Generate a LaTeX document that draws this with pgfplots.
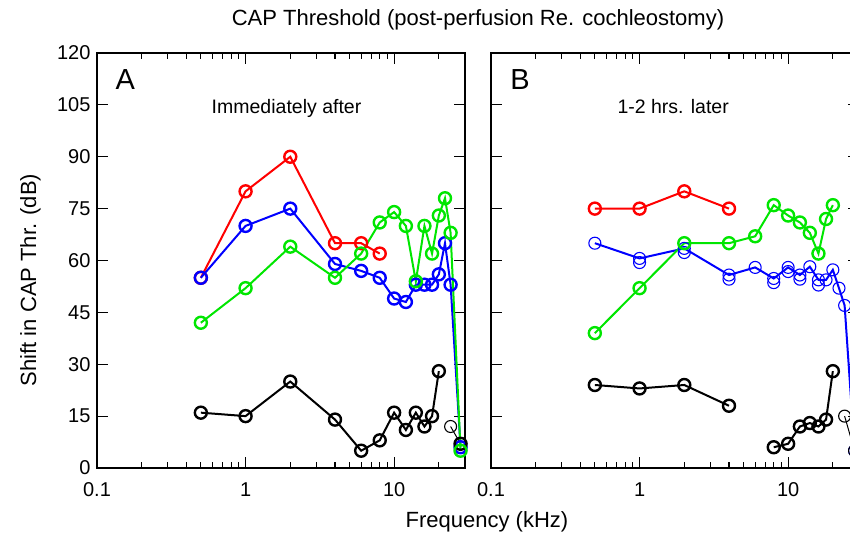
\documentclass[border=0pt]{standalone}
\usepackage{fontspec}
\setmainfont{Liberation Sans}
\usepackage{pgfplots}
\pgfplotsset{compat=1.18}
\definecolor{cred}{RGB}{255,0,0}
\definecolor{cblue}{RGB}{0,0,255}
\definecolor{cgreen}{RGB}{0,230,0}
\pgfplotsset{
  every axis/.append style={
    scale only axis, width=368pt, height=415pt,
    xmin=0.1, xmax=30, ymin=0, ymax=120,
    xtick={0.1,1,10}, xticklabels={0.1,1,10},
    minor xtick={0.2,0.3,0.4,0.5,0.6,0.7,0.8,0.9,2,3,4,5,6,7,8,9,20,30},
    ytick={0,15,...,120},
    axis line style={line width=2.5pt},
    major tick length=11pt, minor tick length=6pt,
    every tick/.style={black, line width=1.2pt},
    tick label style={font=\fontsize{20}{23}\selectfont},
    xticklabel style={yshift=-11pt},
    yticklabel style={xshift=-3pt},
    /pgf/number format/assume math mode=true,
    anchor=south west,
  },
  every axis plot/.append style={line width=2pt, mark=o, mark size=6pt, mark options={line width=2.4pt}},
}
\tikzset{thinser/.style={line width=1pt, mark options={line width=1.1pt}},
         thinmark/.style={line width=2pt, mark options={line width=1.1pt}}}
\begin{document}
\begin{tikzpicture}
\begin{semilogxaxis}[at={(97pt,75pt)}]
\addplot[cred] coordinates {(0.5,55)(1,80)(2,90)(4,65)(6,65)(8,62)};
\addplot[cblue] coordinates {(0.5,55)(1,70)(2,75)(4,59)(6,57)(8,55)(10,49)(12,48)(14,53)(16,53)(18,53)(20,56)(22,65)(24,53)(28,6)};
\addplot[black] coordinates {(0.5,16)(1,15)(2,25)(4,14)(6,5)(8,8)(10,16)(12,11)(14,16)(16,12)(18,15)(20,28)};
\addplot[black, thinser] coordinates {(24,12)(28,7)};
\addplot[black, only marks] coordinates {(28,7)};
\addplot[cgreen] coordinates {(0.5,42)(1,52)(2,64)(4,55)(6,62)(8,71)(10,74)(12,70)(14,54)(16,70)(18,62)(20,73)(22,78)(24,68)(28,5)};
\node[anchor=base, font=\fontsize{29}{33}\selectfont] at (rel axis cs:0.077,0.911) {A};
\node[anchor=base, font=\fontsize{19.5}{23}\selectfont] at (rel axis cs:0.515,0.855) {Immediately after};
\end{semilogxaxis}
\begin{semilogxaxis}[at={(491pt,75pt)}, yticklabels={}]
\addplot[cred] coordinates {(0.5,75)(1,75)(2,80)(4,75)};
\addplot[cblue, thinmark] coordinates {(0.5,65)(1,60.6)(2,63.5)(4,55.8)(6,58)(8,54.8)(10,58)(12,55.8)(14,58.2)(16,54.4)(18,54.4)(20,57.3)(22,52)(24,47)(28,5)};
\addplot[cblue, thinmark, only marks] coordinates {(1,59.4)(2,62.3)(4,54.6)(8,53.6)(10,56.8)(12,54.6)(16,52.9)};
\addplot[cgreen] coordinates {(0.5,39)(1,52)(2,65)(4,65)(6,67)(8,76)(10,73)(12,71)(14,68)(16,62)(18,72)(20,76)};
\addplot[black] coordinates {(0.5,24)(1,23)(2,24)(4,18)};
\addplot[black] coordinates {(8,6)(10,7)(12,12)(14,13)(16,12)(18,14)(20,28)};
\addplot[black, thinser] coordinates {(24,15)(28,5)};
\node[anchor=base, font=\fontsize{29}{33}\selectfont] at (rel axis cs:0.079,0.911) {B};
\node[anchor=base, font=\fontsize{19.5}{23}\selectfont] at (rel axis cs:0.495,0.855) {1-2 hrs. later};
\end{semilogxaxis}
\node[anchor=base, font=\fontsize{22}{26}\selectfont] at (478pt,517pt) {CAP Threshold (post-perfusion Re. cochleostomy)};
\node[anchor=base, font=\fontsize{22}{26}\selectfont] at (487pt,16pt) {Frequency (kHz)};
\node[anchor=base, rotate=90, font=\fontsize{22}{26}\selectfont] at (36pt,263pt) {Shift in CAP Thr. (dB)};
\pgfresetboundingbox
\useasboundingbox (0,0) rectangle (850pt,543pt);
\end{tikzpicture}
\end{document}
